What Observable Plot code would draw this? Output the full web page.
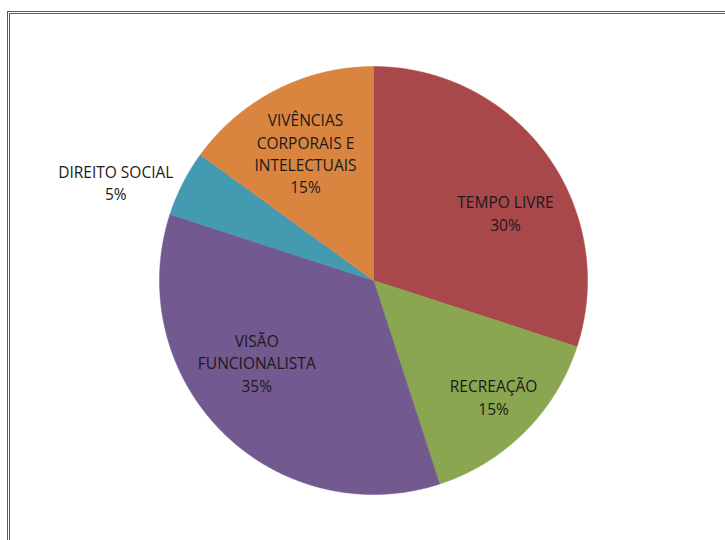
<!DOCTYPE html>
<html>
<head>
<meta charset="utf-8">
<script src="https://cdn.jsdelivr.net/npm/d3@7"></script>
<script src="https://cdn.jsdelivr.net/npm/@observablehq/plot@0.6"></script>
<style>
  html, body { margin: 0; padding: 0; background: #fff; }
  #wrap { position: relative; width: 725px; height: 540px; overflow: hidden; }
  #frame { position: absolute; left: 7px; top: 11px; right: -10px; bottom: -10px;
           border-left: 3px double #5e5e5e; border-top: 3px double #5e5e5e; }
  #chart { position: absolute; left: 0; top: 0; }
</style>
</head>
<body>
<div id="wrap"><div id="frame"></div><div id="chart"></div></div>
<script>
// ---- data ----
const categories = ["TEMPO LIVRE", "RECREAÇÃO", "VISÃO\nFUNCIONALISTA", "DIREITO SOCIAL", "VIVÊNCIAS\nCORPORAIS E\nINTELECTUAIS"];
const percents = [30, 15, 35, 5, 15];
const colors = ["#A9484A", "#8BA650", "#72598F", "#439AB1", "#DA853F"];

// ---- layout (label placement, relative to slice mid-angle / radius) ----
const labelAngleShift = [8.7, -1, 10, -6, -1];   // degrees
const labelRadius = [0.694, 0.78, 0.666, 1.29, 0.677]; // fraction of pie radius

const R = 214, cx = 373, cy = 280, W = 725, H = 540;

const pie = d3.pie().sort(null).value(d => d)(percents);
const rad = Math.PI / 180;

const slicePts = [];
pie.forEach((p, i) => {
  const a0 = p.startAngle, a1 = p.endAngle;
  const n = Math.max(2, Math.ceil((a1 - a0) / (0.5 * rad)));
  slicePts.push({cat: categories[i], x: 0, y: 0});
  for (let k = 0; k <= n; k++) {
    const a = a0 + (a1 - a0) * k / n;
    slicePts.push({cat: categories[i], x: Math.sin(a), y: Math.cos(a)});
  }
  slicePts.push({cat: categories[i], x: 0, y: 0});
});

const labels = pie.map((p, i) => {
  const a = (p.startAngle + p.endAngle) / 2 + labelAngleShift[i] * rad;
  return {
    text: categories[i] + "\n" + percents[i] + "%",
    x: labelRadius[i] * Math.sin(a),
    y: labelRadius[i] * Math.cos(a)
  };
});

const chart = Plot.plot({
  width: W, height: H,
  margin: 0,
  style: {background: "transparent"},
  x: {domain: [-cx / R, (W - cx) / R], axis: null},
  y: {domain: [-(H - cy) / R, cy / R], axis: null},
  color: {domain: categories, range: colors},
  marks: [
    Plot.line(slicePts, {x: "x", y: "y", z: "cat", fill: "cat", stroke: "cat", strokeWidth: 0.5, curve: "linear"}),
    Plot.text(labels, {x: "x", y: "y", text: "text", fill: "#1a1a1a",
      fontFamily: "Open Sans", fontSize: 15.5, lineHeight: 1.45, lineAnchor: "middle", textAnchor: "middle"})
  ]
});
document.getElementById("chart").appendChild(chart);
</script>
</body>
</html>
